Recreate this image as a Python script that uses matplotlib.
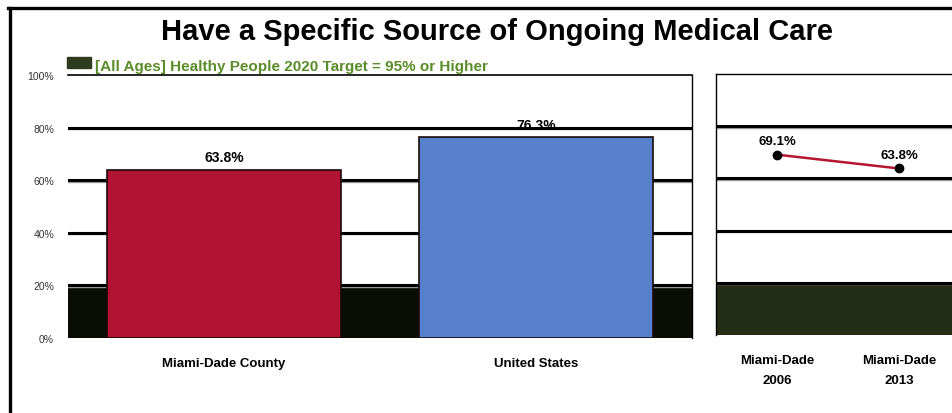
import matplotlib.pyplot as plt
from matplotlib.lines import Line2D
from matplotlib.patches import Rectangle
import numpy as np

# data
bar_labels = ['Miami-Dade County', 'United States']
bar_values = [63.8, 76.3]
bar_colors = ['#b01432', '#5680cc']

trend_labels = ['Miami-Dade\n2006', 'Miami-Dade\n2013']
trend_values = [69.1, 63.8]

band_top = 19.5
yticks = [0, 20, 40, 60, 80, 100]

W, H = 952, 414
fig = plt.figure(figsize=(W / 100, H / 100), dpi=100)


def fx(px):
    return px / W


def fy(px):
    return 1 - px / H


# frame lines
fig.add_artist(Line2D([fx(8), 1], [fy(9), fy(9)], color='black', lw=2.4))
fig.add_artist(Line2D([fx(9.5), fx(9.5)], [0, fy(9)], color='black', lw=2.4))

fig.text(0.522, fy(32), 'Have a Specific Source of Ongoing Medical Care',
         ha='center', va='center', fontsize=21, fontweight='bold',
         family='Liberation Sans')

# legend
fig.add_artist(Rectangle((fx(67), fy(69)), fx(24), 11 / H, color='#2e3b1f',
                         transform=fig.transFigure))
fig.text(fx(95), fy(67), '[All Ages] Healthy People 2020 Target = 95% or Higher',
         ha='left', va='center', fontsize=11, fontweight='bold',
         color='#5b8c2a', family='Liberation Sans')


def grid(ax):
    for v in [20, 40, 60, 80]:
        ax.axhline(v - 0.5, color='#9a9a9a', lw=1.0, zorder=2)
        ax.axhline(v, color='black', lw=2.2, zorder=2)


# left panel: bars
ax = fig.add_axes([fx(68), fy(339), fx(692 - 68), (339 - 76) / H])
x = np.arange(len(bar_values))
ax.axhspan(0, band_top, color='#0a0d05', zorder=1.5)
grid(ax)
ax.bar(x, bar_values, width=0.75, color=bar_colors, edgecolor='#1a0a0a',
       lw=1.2, zorder=3)
for xi, v in zip(x, bar_values):
    ax.text(xi, v + 2.2, f'{v}%', ha='center', va='bottom', fontsize=10,
            fontweight='bold', family='Liberation Sans', zorder=1)
ax.set_xlim(-0.5, 1.5)
ax.set_ylim(0, 100)
ax.set_yticks(yticks)
ax.set_yticklabels([f'{t}%' for t in yticks], fontsize=7.5, color='#333333',
                   family='Liberation Sans')
ax.set_xticks(x)
ax.set_xticklabels(bar_labels, fontsize=9.5, fontweight='bold',
                   family='Liberation Sans')
ax.tick_params(length=0)
ax.tick_params(axis='y', pad=10)
ax.tick_params(axis='x', pad=14)
for s in ['left', 'bottom']:
    ax.spines[s].set_visible(False)
ax.spines['top'].set_linewidth(1.2)
ax.spines['right'].set_linewidth(1.0)

# right panel: trend
ax2 = fig.add_axes([fx(716), fy(336), fx(960 - 716), (336 - 75) / H])
x2 = np.arange(len(trend_values))
ax2.axhspan(0, band_top, color='#232d16', zorder=1.5)
grid(ax2)
ax2.plot(x2, trend_values, color='#b5152f', lw=1.8, marker='o', ms=6,
         mfc='black', mec='black', zorder=4)
for xi, v in zip(x2, trend_values):
    ax2.text(xi, v + 3, f'{v}%', ha='center', va='bottom', fontsize=9.5,
             fontweight='bold', family='Liberation Sans')
ax2.set_xlim(-0.5, 1.5)
ax2.set_ylim(0, 100)
ax2.set_yticks([])
ax2.set_xticks(x2)
ax2.set_xticklabels(trend_labels, fontsize=9.5, fontweight='bold',
                    family='Liberation Sans', linespacing=1.85)
ax2.tick_params(length=0, pad=14)
for s in ['right', 'bottom']:
    ax2.spines[s].set_visible(False)
ax2.spines['top'].set_linewidth(1.0)
ax2.spines['left'].set_linewidth(1.0)

fig.savefig('out.png', dpi=100)
